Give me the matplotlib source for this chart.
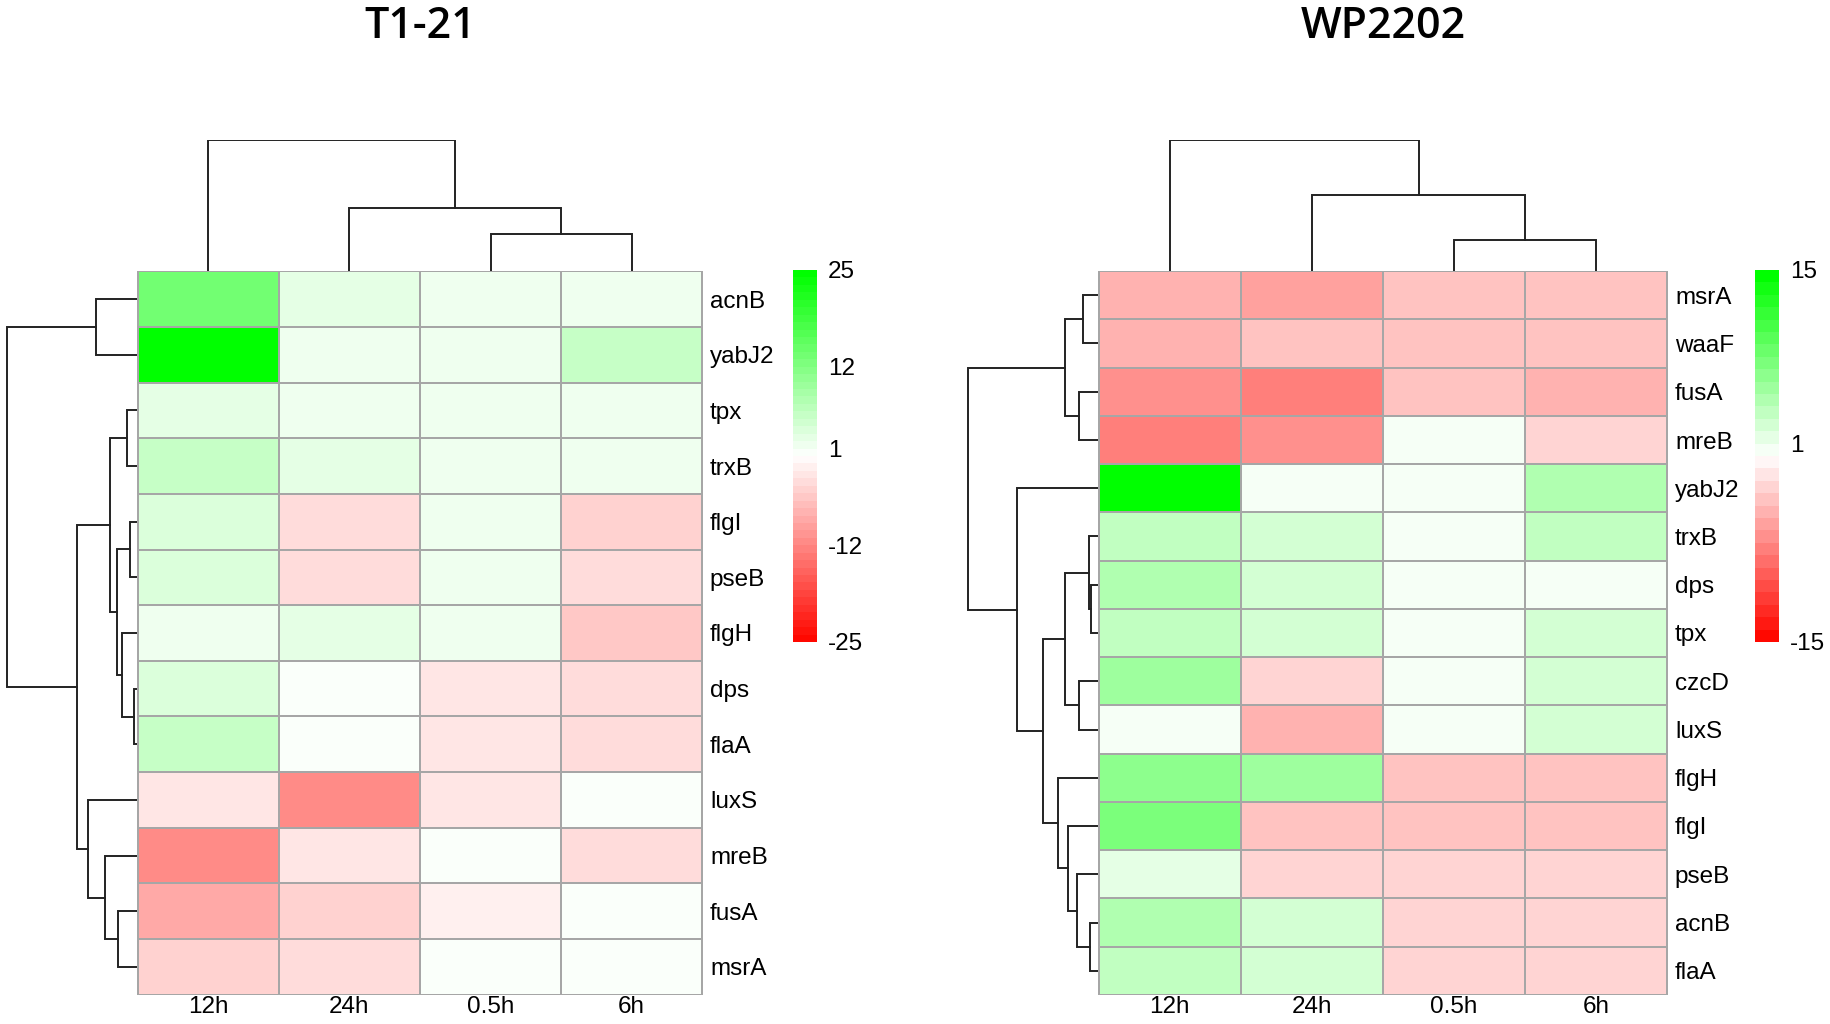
import matplotlib
matplotlib.use("Agg")
import matplotlib.pyplot as plt
import numpy as np
from matplotlib.colors import LinearSegmentedColormap, Normalize
from matplotlib.cm import ScalarMappable

# ---------------- data ----------------
timepoints = ["12h", "24h", "0.5h", "6h"]

t1_genes = ["acnB", "yabJ2", "tpx", "trxB", "flgI", "pseB", "flgH", "dps",
            "flaA", "luxS", "mreB", "fusA", "msrA"]
t1_12h = [13, 25, 2.5, 5, 3, 3, 1.5, 4, 5, -2.5, -11.5, -8.5, -4.5]
t1_24h = [2.5, 1, 1, 2, -3.5, -3.5, 2, 0.5, 0.5, -11.5, -3, -4.5, -3.5]
t1_05h = [1, 1, 1, 1, 1, 1, 1, -2.5, -2.5, -2.5, 0.5, -2, 0.5]
t1_6h = [1, 5, 1, 1.8, -4.5, -3.5, -6, -3.5, -3.5, 0.5, -4, 0.5, 0.5]

wp_genes = ["msrA", "waaF", "fusA", "mreB", "yabJ2", "trxB", "dps", "tpx",
            "czcD", "luxS", "flgH", "flgI", "pseB", "acnB", "flaA"]
wp_12h = [-5, -5, -6.8, -8, 15, 3.8, 4, 3, 5, 0.6, 6, 7, 1.8, 4, 3]
wp_24h = [-6, -3.7, -7.9, -7, 0.6, 2, 2, 2, -2.7, -5, 5, -4, -3, 2, 2]
wp_05h = [-3.8, -4, -3.8, 0.6, 0.6, 0.6, 0.6, 0.6, 0.6, 0.6, -4, -4, -3, -3, -2.8]
wp_6h = [-3.8, -4, -5, -2.7, 4.7, 3, 0.6, 2, 2, 2.5, -4, -4, -3, -3, -2.8]

# dendrograms: (left, right, merge height)
t1_col_tree = ("12h", ("24h", ("0.5h", "6h", 37), 63), 131)
t1_row_tree = (("acnB", "yabJ2", 41),
               ((("tpx", "trxB", 10),
                 (("flgI", "pseB", 7), ("flgH", ("dps", "flaA", 3), 15), 20), 27),
                ("luxS", ("mreB", ("fusA", "msrA", 19), 32), 49), 60), 130)
wp_col_tree = ("12h", ("24h", ("0.5h", "6h", 31), 76), 131)
wp_row_tree = ((("msrA", "waaF", 15), ("fusA", "mreB", 19), 33),
               ("yabJ2",
                (((("trxB", ("dps", "tpx", 7.5), 9), ("czcD", "luxS", 19), 33)),
                 ("flgH", ("flgI", ("pseB", ("acnB", "flaA", 8), 21), 30), 40), 55),
                81), 130)

t1_ticks = [25, 12, 1, -12, -25]
wp_ticks = [15, 1, -15]

# ---------------- style ----------------
W, H = 1831, 1024
fig = plt.figure(figsize=(W / 100, H / 100), dpi=100)
plt.rcParams['font.family'] = ['Liberation Sans', 'DejaVu Sans']

base_cmap = LinearSegmentedColormap.from_list(
    "rwg", ["#FF0800", "#FFFFFF", "#00FF00"])
grid_col = "#A6A6A6"
tree_col = "#222222"
lab_fs = 17.5


def box(x0, y0, x1, y1):
    return [x0 / W, 1 - y1 / H, (x1 - x0) / W, (y1 - y0) / H]


def draw_tree(ax, tree, order, horizontal):
    pos = {name: i + 0.5 for i, name in enumerate(order)}

    def rec(node):
        if isinstance(node, str):
            return pos[node], 0.0
        a, b, h = node
        pa, ha = rec(a)
        pb, hb = rec(b)
        if horizontal:  # row dendrogram: x=height, y=position
            ax.plot([ha, h, h, hb], [pa, pa, pb, pb], color=tree_col, lw=1.4,
                    solid_joinstyle='miter')
        else:
            ax.plot([pa, pa, pb, pb], [ha, h, h, hb], color=tree_col, lw=1.4,
                    solid_joinstyle='miter')
        return (pa + pb) / 2, h

    rec(tree)
    ax.axis('off')


def panel(title, genes, cols, col_tree, row_tree, vmax, ticks, ncol_levels,
          hx0, hx1, rdx0, cbx0):
    hy0, hy1 = 271, 995
    n = len(genes)
    data = np.array(cols).T
    cmap = base_cmap.resampled(ncol_levels)
    norm = Normalize(-vmax, vmax)

    ax = fig.add_axes(box(hx0, hy0, hx1, hy1))
    ax.pcolormesh(np.arange(5), np.arange(n + 1), data, cmap=cmap, norm=norm,
                  edgecolors=grid_col, linewidth=1.2)
    ax.set_xlim(-0.005, 4.005)
    ax.set_ylim(n + 0.005, -0.005)
    for s in ax.spines.values():
        s.set_visible(False)
    ax.set_xticks(np.arange(4) + 0.5)
    ax.set_xticklabels(timepoints, fontsize=lab_fs)
    ax.set_yticks(np.arange(n) + 0.5)
    ax.set_yticklabels(genes, fontsize=lab_fs)
    ax.yaxis.tick_right()
    ax.tick_params(axis='x', length=0, pad=1)
    ax.tick_params(axis='y', length=0, pad=5)

    # column dendrogram
    axc = fig.add_axes(box(hx0, 140, hx1, hy0))
    draw_tree(axc, col_tree, timepoints, horizontal=False)
    axc.set_xlim(-0.005, 4.005)
    axc.set_ylim(0, 131)

    # row dendrogram
    axr = fig.add_axes(box(rdx0, hy0, hx0, hy1))
    draw_tree(axr, row_tree, genes, horizontal=True)
    axr.set_xlim(hx0 - rdx0, 0)
    axr.set_ylim(n, 0)

    # colour key
    cax = fig.add_axes(box(cbx0, 270, cbx0 + 24, 642))
    cb = fig.colorbar(ScalarMappable(norm=norm, cmap=cmap), cax=cax,
                      ticks=ticks)
    cb.outline.set_visible(False)
    cb.ax.set_yticklabels([str(t) for t in ticks], fontsize=lab_fs)
    cb.ax.tick_params(length=0, pad=8)

    fig.text(((hx0 + hx1) / 2) / W, 1 - 38 / H, title, ha='center',
             va='baseline', fontsize=31, fontweight='semibold',
             family=['Open Sans', 'DejaVu Sans'])


panel("T1-21", t1_genes, [t1_12h, t1_24h, t1_05h, t1_6h], t1_col_tree,
      t1_row_tree, 25, t1_ticks, 50, 137, 703, 6, 793)
panel("WP2202", wp_genes, [wp_12h, wp_24h, wp_05h, wp_6h], wp_col_tree,
      wp_row_tree, 15, wp_ticks, 30, 1098, 1668, 967, 1755)

fig.savefig("out.png", dpi=100, facecolor="white")
